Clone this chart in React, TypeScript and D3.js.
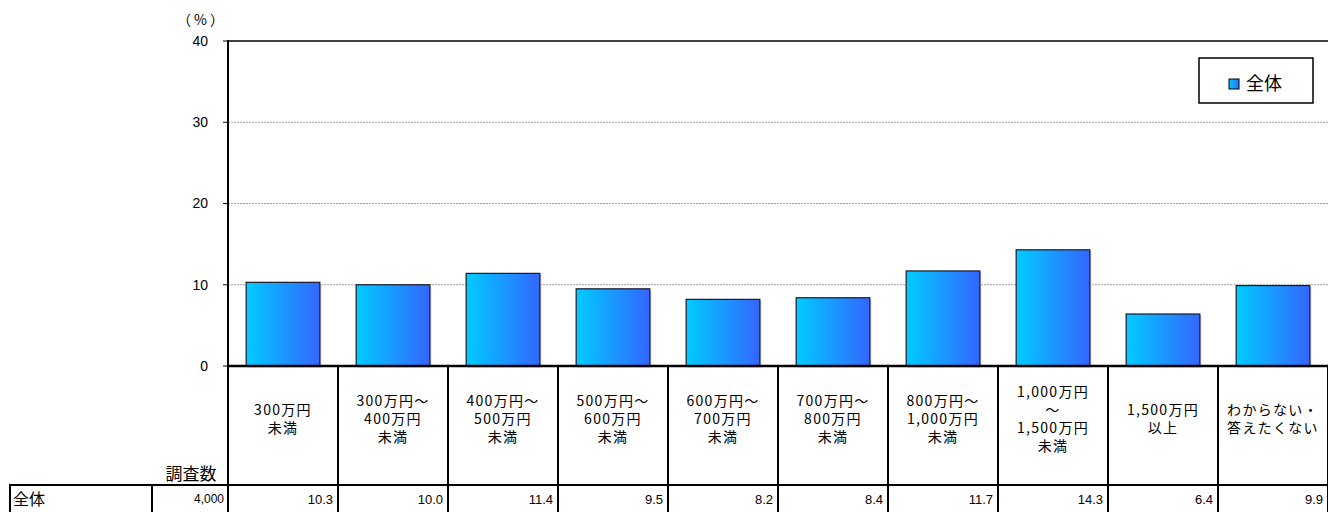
import React from "react";
import * as d3 from "d3";

const categories: string[][] = [
  ["300万円", "未満"],
  ["300万円～", "400万円", "未満"],
  ["400万円～", "500万円", "未満"],
  ["500万円～", "600万円", "未満"],
  ["600万円～", "700万円", "未満"],
  ["700万円～", "800万円", "未満"],
  ["800万円～", "1,000万円", "未満"],
  ["1,000万円", "～", "1,500万円", "未満"],
  ["1,500万円", "以上"],
  ["わからない・", "答えたくない"],
];
const values: number[] = [10.3, 10.0, 11.4, 9.5, 8.2, 8.4, 11.7, 14.3, 6.4, 9.9];
const yTicks: number[] = [0, 10, 20, 30, 40];
const seriesName = "全体";
const sampleLabel = "調査数";
const sampleSize = "4,000";

const W = 1328;
const H = 512;
const FONT = "'Noto Sans CJK JP', 'Noto Sans', sans-serif";
const NUMFONT = "'Liberation Sans', Arial, sans-serif";

export default function App() {
  const left = 228;
  const top = 41;
  const zeroY = 366;
  const tableY = 485;

  const x = d3
    .scaleBand<number>()
    .domain(d3.range(categories.length))
    .range([left, left + 110 * categories.length])
    .paddingInner(0.33)
    .paddingOuter(0.165);
  const xCol = d3
    .scaleBand<number>()
    .domain(d3.range(categories.length))
    .range([left, left + 110 * categories.length]);
  const y = d3.scaleLinear().domain([0, 40]).range([zeroY, top]);

  return (
    <svg width={W} height={H} style={{ position: "absolute", left: 0, top: 0, fontFamily: FONT }}>
      <defs>
        <linearGradient id="barGrad" x1="0" x2="1" y1="0" y2="0">
          <stop offset="0%" stopColor="#00CCFF" />
          <stop offset="100%" stopColor="#3366FF" />
        </linearGradient>
      </defs>
      <rect x={0} y={0} width={W} height={H} fill="#fff" />

      {/* gridlines */}
      {yTicks
        .filter((t) => t > 0 && t < 40)
        .map((t) => (
          <line
            key={"g" + t}
            x1={left}
            x2={W}
            y1={y(t)}
            y2={y(t)}
            stroke="#A0A0A0"
            strokeWidth={1}
            strokeDasharray="2,1"
          />
        ))}
      {/* top frame */}
      <line x1={left} x2={W} y1={top} y2={top} stroke="#000" strokeWidth={1.5} />

      {/* bars */}
      {values.map((v, i) => {
        const bx = x(i)!;
        const bw = x.bandwidth();
        const by = y(v);
        return (
          <g key={"b" + i}>
            <rect x={bx + 1.5} y={by + 1.5} width={bw} height={zeroY - by} fill="#C8C8C8" />
            <rect
              x={bx}
              y={by}
              width={bw}
              height={zeroY - by}
              fill="url(#barGrad)"
              stroke="#1a1a2a"
              strokeWidth={1.2}
            />
          </g>
        );
      })}

      {/* y axis */}
      <line x1={left} x2={left} y1={top - 0.75} y2={zeroY} stroke="#000" strokeWidth={2} />
      {yTicks.map((t) => (
        <g key={"t" + t}>
          <line x1={left - 5} x2={left} y1={y(t)} y2={y(t)} stroke="#000" strokeWidth={1} />
          <text
            x={208}
            y={y(t)}
            dy="0.35em"
            textAnchor="end"
            fontSize={14}
            fontFamily={NUMFONT}
            fill="#000"
          >
            {t}
          </text>
        </g>
      ))}
      <text x={202} y={20} dy="0.35em" textAnchor="middle" fontSize={14} letterSpacing={3} fill="#000">
        （%）
      </text>

      {/* zero line */}
      <line x1={left} x2={W} y1={zeroY} y2={zeroY} stroke="#000" strokeWidth={2.5} />

      {/* column dividers */}
      {d3.range(categories.length + 1).map((i) => {
        const cx = left + 110 * i;
        return <line key={"d" + i} x1={cx} x2={cx} y1={zeroY} y2={H} stroke="#000" strokeWidth={2} />;
      })}

      {/* category labels */}
      {categories.map((lines, i) => {
        const cx = xCol(i)! + xCol.bandwidth() / 2;
        const lh = 18;
        const startY = 419 - ((lines.length - 1) * lh) / 2;
        return (
          <text key={"c" + i} textAnchor="middle" fontSize={14} fill="#000" letterSpacing={1.3}>
            {lines.map((ln, j) => (
              <tspan key={j} x={cx} y={startY + j * lh} dy="0.35em">
                {ln}
              </tspan>
            ))}
          </text>
        );
      })}

      {/* table */}
      <text x={191} y={474} dy="0.35em" textAnchor="middle" fontSize={17} fill="#000">
        {sampleLabel}
      </text>
      <line x1={9} x2={W} y1={tableY} y2={tableY} stroke="#000" strokeWidth={2} />
      <line x1={10} x2={10} y1={tableY} y2={H} stroke="#000" strokeWidth={2} />
      <line x1={152} x2={152} y1={tableY} y2={H} stroke="#000" strokeWidth={2} />
      <text x={13} y={499} dy="0.35em" fontSize={16} fill="#000">
        {seriesName}
      </text>
      <text x={224} y={503} textAnchor="end" fontSize={12} fontFamily={NUMFONT} fill="#000">
        {sampleSize}
      </text>
      {values.map((v, i) => (
        <text
          key={"v" + i}
          x={xCol(i)! + xCol.bandwidth() - 5}
          y={504}
          textAnchor="end"
          fontSize={13}
          fontFamily={NUMFONT}
          fill="#000"
        >
          {v.toFixed(1)}
        </text>
      ))}

      {/* legend */}
      <rect x={1199} y={58} width={114} height={45} fill="#fff" stroke="#000" strokeWidth={1.5} />
      <rect x={1229} y={79} width={10} height={10} fill="url(#barGrad)" stroke="#000" strokeWidth={1} />
      <text x={1246} y={84} dy="0.36em" fontSize={18} fill="#000">
        {seriesName}
      </text>
    </svg>
  );
}
